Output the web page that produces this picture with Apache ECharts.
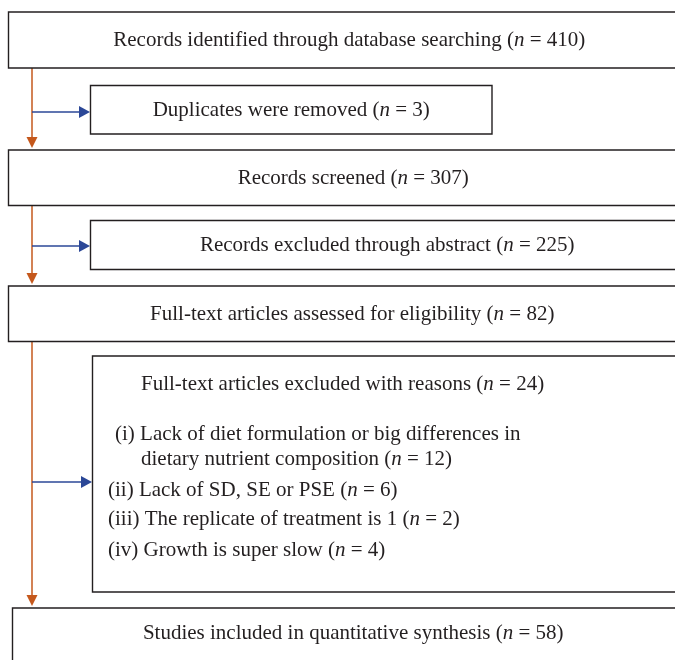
<!DOCTYPE html>
<html>
<head>
<meta charset="utf-8">
<script src="https://cdn.jsdelivr.net/npm/echarts@6/dist/echarts.min.js"></script>
<style>
  html, body { margin: 0; padding: 0; background: #ffffff; }
  #chart { width: 675px; height: 660px; }
</style>
</head>
<body>
<div id="chart"></div>
<script>
// ---- Data ----
const stepLabels = [
  'Records identified through database searching',
  'Duplicates were removed',
  'Records screened',
  'Records excluded through abstract',
  'Full-text articles assessed for eligibility',
  'Full-text articles excluded with reasons',
  'Studies included in quantitative synthesis'
];
const stepCounts = [410, 3, 307, 225, 82, 24, 58];
const reasonNumerals = ['(i)', '(ii)', '(iii)', '(iv)'];
const reasonLabels = [
  ['Lack of diet formulation or big differences in', 'dietary nutrient composition'],
  ['Lack of SD, SE or PSE'],
  ['The replicate of treatment is 1'],
  ['Growth is super slow']
];
const reasonCounts = [12, 6, 2, 4];
const mainFlow = [[0, 2], [2, 4], [4, 6]];
const sideFlow = [[0, 1], [2, 3], [4, 5]];

// ---- Layout (in the hidden axes' units) ----
const layout = {
  boxes: [
    { x0: 8.5, x1: 690, y0: 12, y1: 68 },
    { x0: 90.5, x1: 492, y0: 85.5, y1: 134 },
    { x0: 8.5, x1: 698, y0: 150, y1: 205.5 },
    { x0: 90.5, x1: 684, y0: 220.5, y1: 269.5 },
    { x0: 8.5, x1: 696, y0: 286, y1: 341.5 },
    { x0: 92.5, x1: 690, y0: 356, y1: 592 },
    { x0: 12.5, x1: 694, y0: 608, y1: 700 }
  ],
  spineX: 32,
  sideY: [112, 246, 482],
  detailHeader: { x: 141, y: 384 },
  detailLines: [
    { x: 115, y: 434, indent: 141, y2: 459 },
    { x: 108, y: 490 },
    { x: 108, y: 519 },
    { x: 108, y: 550 }
  ]
};

const FONT = '"Liberation Serif", "DejaVu Serif", serif';
const FS = 21;
const TEXT_COLOR = '#231f20';
const BORDER = '#231f20';
const ORANGE = '#c5581c';
const BLUE = '#2b4797';

const rich = {
  r: { fontFamily: FONT, fontSize: FS, color: TEXT_COLOR },
  it: { fontFamily: FONT, fontSize: FS, color: TEXT_COLOR, fontStyle: 'italic' }
};
function nText(label, count) {
  return '{r|' + label + ' (}{it|n}{r| = ' + count + ')}';
}

const chart = echarts.init(document.getElementById('chart'), null, { renderer: 'canvas' });

function renderBox(params, api) {
  const i = api.value(0);
  const b = layout.boxes[i];
  const p0 = api.coord([b.x0, b.y0]);
  const p1 = api.coord([b.x1, b.y1]);
  const children = [{
    type: 'rect',
    shape: { x: p0[0], y: p0[1], width: p1[0] - p0[0], height: p1[1] - p0[1] },
    style: { fill: '#ffffff', stroke: BORDER, lineWidth: 1.4 }
  }];
  if (i !== 5) {
    const c = api.coord([(b.x0 + b.x1) / 2, i === 6 ? (b.y0 + 660) / 2 - 1 : (b.y0 + b.y1) / 2 + 0.5]);
    children.push({
      type: 'text',
      style: {
        text: nText(stepLabels[i], stepCounts[i]), rich: rich,
        x: c[0], y: c[1], align: 'center', verticalAlign: 'middle',
        fontFamily: FONT, fontSize: FS, fill: TEXT_COLOR
      }
    });
  } else {
    const h = api.coord([layout.detailHeader.x, layout.detailHeader.y]);
    children.push({
      type: 'text',
      style: {
        text: nText(stepLabels[i], stepCounts[i]), rich: rich,
        x: h[0], y: h[1], align: 'left', verticalAlign: 'middle',
        fontFamily: FONT, fontSize: FS, fill: TEXT_COLOR
      }
    });
    reasonLabels.forEach(function (lines, k) {
      const L = layout.detailLines[k];
      const last = lines.length - 1;
      lines.forEach(function (line, j) {
        const isLast = j === last;
        const prefix = j === 0 ? reasonNumerals[k] + ' ' : '';
        const content = isLast
          ? '{r|' + prefix + '}' + nText(line, reasonCounts[k])
          : '{r|' + prefix + line + '}';
        const pos = j === 0 ? api.coord([L.x, L.y]) : api.coord([L.indent, L.y2]);
        children.push({
          type: 'text',
          style: {
            text: content, rich: rich,
            x: pos[0], y: pos[1], align: 'left', verticalAlign: 'middle',
            fontFamily: FONT, fontSize: FS, fill: TEXT_COLOR
          }
        });
      });
    });
  }
  return { type: 'group', children: children };
}

function renderMain(params, api) {
  const from = layout.boxes[api.value(0)];
  const to = layout.boxes[api.value(1)];
  const a = api.coord([layout.spineX, from.y1]);
  const b = api.coord([layout.spineX, to.y0 - 2]);
  const headLen = 11, headHalf = 5.5;
  return {
    type: 'group',
    children: [
      { type: 'line', shape: { x1: a[0], y1: a[1], x2: b[0], y2: b[1] - headLen + 1 },
        style: { stroke: ORANGE, lineWidth: 1.5 } },
      { type: 'polygon', shape: { points: [[b[0] - headHalf, b[1] - headLen], [b[0] + headHalf, b[1] - headLen], [b[0], b[1]]] },
        style: { fill: ORANGE } }
    ]
  };
}

function renderSide(params, api) {
  const k = params.dataIndex;
  const to = layout.boxes[api.value(1)];
  const y = layout.sideY[k];
  const a = api.coord([layout.spineX, y]);
  const b = api.coord([to.x0 - 0.5, y]);
  const headLen = 11, headHalf = 6;
  return {
    type: 'group',
    children: [
      { type: 'line', shape: { x1: a[0], y1: a[1], x2: b[0] - headLen + 1, y2: b[1] },
        style: { stroke: BLUE, lineWidth: 1.5 } },
      { type: 'polygon', shape: { points: [[b[0] - headLen, b[1] - headHalf], [b[0] - headLen, b[1] + headHalf], [b[0], b[1]]] },
        style: { fill: BLUE } }
    ]
  };
}

chart.setOption({
  animation: false,
  backgroundColor: '#ffffff',
  grid: { left: 0, right: 0, top: 0, bottom: 0 },
  xAxis: { type: 'value', min: 0, max: 675, show: false },
  yAxis: { type: 'value', min: 0, max: 660, inverse: true, show: false },
  series: [
    { type: 'custom', name: 'main', renderItem: renderMain, data: mainFlow, clip: false, z: 1 },
    { type: 'custom', name: 'side', renderItem: renderSide, data: sideFlow, clip: false, z: 1 },
    { type: 'custom', name: 'boxes', renderItem: renderBox, data: stepLabels.map(function (_, i) { return [i]; }), clip: false, z: 2 }
  ]
});
</script>
</body>
</html>
